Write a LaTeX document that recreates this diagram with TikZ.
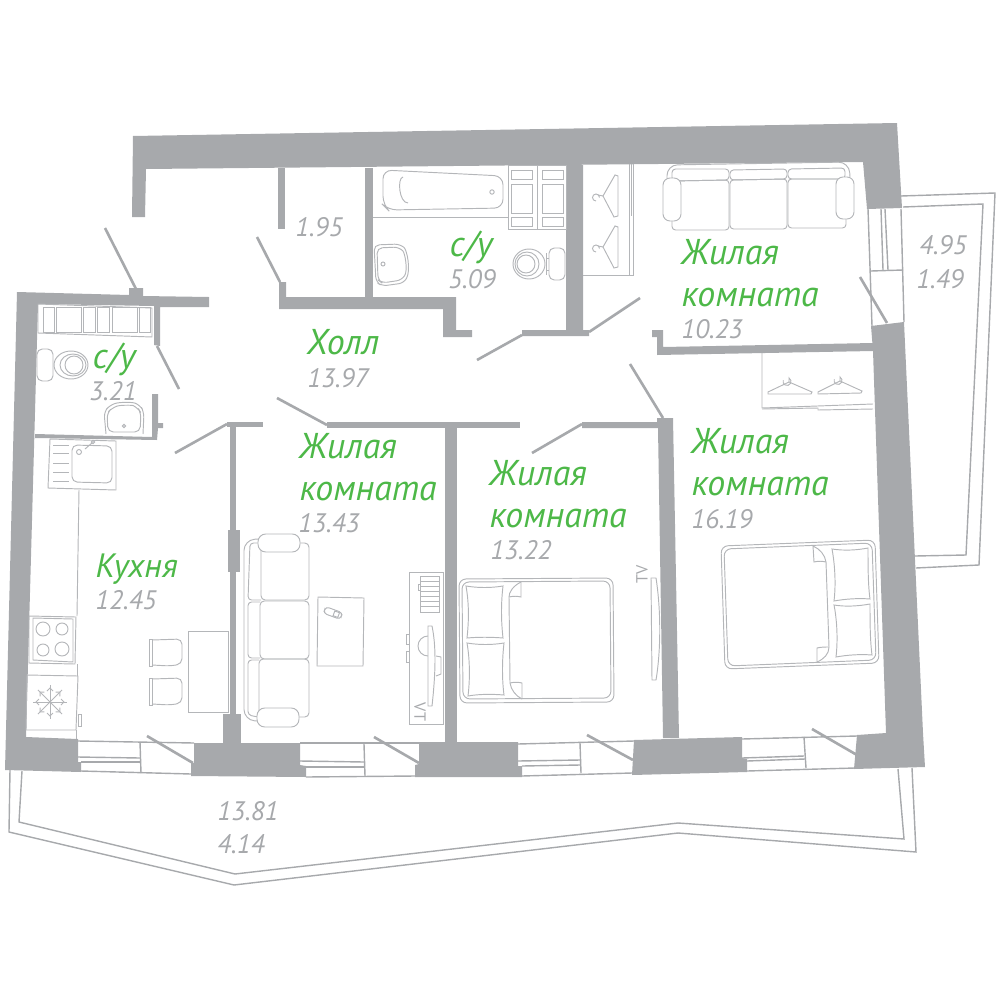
\documentclass[tikz,border=0pt]{standalone}
\usepackage{fontspec}
\setmainfont{PT Sans}
\definecolor{wallgray}{HTML}{A7A9AC}
\definecolor{linegray}{HTML}{B4B6B9}
\definecolor{roomgreen}{HTML}{4DB848}
\tikzset{
	wallfill/.style = {fill = wallgray, draw = none},
	doorline/.style = {draw = wallgray, line width = 0.75pt},
	winline/.style = {draw = wallgray, line width = 0.4pt},
	furnline/.style = {draw = linegray, line width = 0.27pt},
	roomlabel/.style = {text = roomgreen, font = \fontsize{10.2}{11.7}\selectfont\itshape, anchor = base west, align = left, inner sep = 0pt},
	arealabel/.style = {text = wallgray, font = \fontsize{7.6}{10}\selectfont\itshape, anchor = center, inner sep = 0pt},
	tvlabel/.style = {text = wallgray, font = \fontsize{4.6}{5}\selectfont, inner sep = 0pt}
}
\begin{document}
\begin{tikzpicture}[x = 0.01cm, y = -0.01cm]
	\useasboundingbox (0, 0) rectangle (1000, 1000);

	% walls
	\fill[wallfill] (133, 136) -- (897, 123) -- (902, 208) -- (867, 209) -- (863, 162) -- (146, 169) -- (145, 217) -- (132, 217) -- cycle;
	\fill[wallfill] (278, 168) rectangle (285, 229);
	\fill[wallfill] (365, 168) rectangle (373, 298);
	\fill[wallfill] (279, 282) -- (286, 282) -- (286, 297) -- (456, 297) -- (456, 330) -- (472, 330) -- (472, 337) -- (443, 337) -- (443, 309) -- (279, 309) -- cycle;
	\fill[wallfill] (566, 165) -- (583, 165) -- (583, 330) -- (589, 330) -- (589, 336) -- (522, 336) -- (522, 330) -- (566, 330) -- cycle;
	\fill[wallfill] (652, 330) -- (663, 330) -- (663, 347) -- (873, 343) -- (873, 351) -- (657, 355) -- (657, 337) -- (652, 337) -- cycle;
	\fill[wallfill] (871, 326) -- (904, 322) -- (923, 733) -- (925, 767) -- (854, 769) -- (857, 735) -- (886, 733) -- (873, 351) -- cycle;
	\fill[wallfill] (327, 422) rectangle (520, 428);
	\fill[wallfill] (582, 422) -- (657, 422) -- (657, 418) -- (673, 418) -- (679, 738) -- (663, 738) -- (658, 428) -- (582, 428) -- cycle;
	\fill[wallfill] (445, 428) rectangle (457, 742);
	\fill[wallfill] (634, 740) -- (742, 737) -- (742, 758) -- (747, 759) -- (747, 772) -- (632, 775) -- cycle;
	\fill[wallfill] (419, 742) -- (518, 742) -- (518, 766) -- (522, 766) -- (522, 777) -- (415, 777) -- (415, 765) -- (419, 764) -- cycle;
	\fill[wallfill] (194, 743) -- (300, 743) -- (300, 765) -- (306, 766) -- (306, 777) -- (191, 776) -- (191, 763) -- (194, 763) -- cycle;
	\fill[wallfill] (17, 292) -- (129, 295) -- (129, 288) -- (143, 288) -- (143, 296) -- (209, 297) -- (209, 307) -- (160, 307) -- (160, 346) -- (154, 345) -- (154, 306) -- (38, 304) -- (26, 737) -- (78, 739) -- (78, 762) -- (81, 762) -- (81, 772) -- (5, 770) -- cycle;
	\fill[wallfill] (35, 434) -- (152, 437) -- (152, 394) -- (158, 394) -- (158, 423) -- (163, 423) -- (163, 428) -- (158, 428) -- (157, 440) -- (35, 438) -- cycle;
	\fill[wallfill] (227, 422) rectangle (263, 427);
	\fill[wallfill] (230, 427) rectangle (236, 530);
	\fill[wallfill] (228, 530) rectangle (240, 572);
	\fill[wallfill] (230, 572) rectangle (236, 714);
	\fill[wallfill] (223, 714) rectangle (241, 743);

	% doors
	\draw[doorline] (105, 228) -- (136, 289);
	\draw[doorline] (257, 237) -- (280, 282);
	\draw[doorline] (477, 360) -- (522, 335);
	\draw[doorline] (589, 332) -- (640, 298);
	\draw[doorline] (860, 277) -- (887, 323);
	\draw[doorline] (630, 364) -- (663, 418);
	\draw[doorline] (277, 398) -- (327, 425);
	\draw[doorline] (532, 453) -- (582, 424);
	\draw[doorline] (157, 346) -- (179, 389);
	\draw[doorline] (175, 453) -- (227, 424);
	\draw[doorline] (147, 736) -- (193, 763);
	\draw[doorline] (374, 737) -- (419, 763);
	\draw[doorline] (587, 735) -- (633, 760);
	\draw[doorline] (812, 729) -- (857, 755);

	% windows
	\draw[winline] (78, 741) -- (194, 743);
	\draw[winline] (78, 757) -- (140, 758);
	\draw[winline] (81, 762) -- (140, 762);
	\draw[winline] (81, 771) -- (191, 774);
	\draw[winline] (140, 742) -- (141, 773);
	\draw[winline] (300, 743) -- (419, 743);
	\draw[winline] (300, 761) -- (364, 762);
	\draw[winline] (306, 767) -- (364, 767);
	\draw[winline] (306, 777) -- (415, 776);
	\draw[winline] (364, 744) -- (365, 776);
	\draw[winline] (518, 744) -- (634, 741);
	\draw[winline] (518, 761) -- (580, 760);
	\draw[winline] (522, 766) -- (580, 765);
	\draw[winline] (522, 776) -- (632, 773);
	\draw[winline] (580, 743) -- (581, 773);
	\draw[winline] (742, 739) -- (857, 736);
	\draw[winline] (742, 758) -- (804, 756);
	\draw[winline] (747, 761) -- (805, 759);
	\draw[winline] (747, 771) -- (855, 768);
	\draw[winline] (804, 737) -- (806, 768);
	\draw[winline] (868, 209) -- (872, 326);
	\draw[winline] (901, 209) -- (904, 322);
	\draw[winline] (881, 209) -- (883, 270);
	\draw[winline] (885, 209) -- (888, 270);
	\draw[winline] (871, 271) -- (903, 270);

	% balconies
	\draw[winline] (901, 196) -- (995, 193) -- (979, 565) -- (916, 568);
	\draw[winline] (903, 207) -- (983, 204) -- (966, 555) -- (915, 556);
	\draw[winline] (10, 770) -- (9, 832) -- (234, 885) -- (678, 833) -- (916, 852) -- (912, 768);
	\draw[winline] (22, 771) -- (19, 822) -- (235, 874) -- (678, 823) -- (904, 839) -- (898, 769);

	% bathroom
	\draw[furnline, rounded corners = 2.5pt] (383, 170) -- (503, 176) -- (503, 208) -- (388, 210) -- (383, 205) -- cycle;
	\draw[furnline] (403, 177) .. controls (397, 178) and (399, 203) .. (408, 203);
	\draw[furnline] (492, 192) circle[radius = 2.2];
	\draw[furnline] (373, 217) -- (508, 217);
	\draw[furnline] (508, 165) rectangle (566, 229);
	\draw[furnline] (537, 165) -- (537, 229);
	\foreach \boxx in {511, 542} {
		\draw[furnline] (\boxx, 170) rectangle ++(21, 9);
		\draw[furnline] (\boxx, 184) rectangle ++(21, 29);
		\draw[furnline] (\boxx, 217) rectangle ++(21, 9);
	}
	\draw[furnline, rounded corners = 1.5pt] (374, 245) -- (400, 244) .. controls (407, 250) and (411, 270) .. (404, 283) -- (382, 286) -- (376, 282) -- cycle;
	\draw[furnline, rounded corners = 1.5pt] (377, 248) -- (399, 247) .. controls (405, 253) and (408, 270) .. (402, 280) -- (382, 283) -- (378, 280) -- cycle;
	\draw[furnline] (383, 264) circle[radius = 2];
	\draw[furnline, rounded corners = 1.5pt] (549, 248) rectangle (565, 280);
	\draw[furnline] (529, 264) ellipse[x radius = 16, y radius = 15];
	\draw[furnline] (527, 264) ellipse[x radius = 12, y radius = 12];
	\draw[furnline] (526, 264) ellipse[x radius = 9, y radius = 9];
	\draw[furnline] (546, 253) -- (546, 275);
	\draw[furnline] (549, 258) -- (546, 258);
	\draw[furnline] (549, 270) -- (546, 270);

	% closet and sofa, room at the top
	\draw[furnline] (583, 275) -- (633, 275) -- (633, 164);
	\draw[furnline] (629, 164) -- (629, 275);
	\draw[furnline] (631, 164) -- (631, 216);
	\foreach \hangy in {0, 51} {
		\draw[furnline] (603, 196 + \hangy) -- (615, 175 + \hangy) -- (618, 176 + \hangy) -- (618, 216 + \hangy) -- (614, 217 + \hangy) -- cycle;
		\draw[furnline] (603, 196 + \hangy) -- (598, 195 + \hangy);
		\draw[furnline] (596, 201 + \hangy) arc[start angle = 90, end angle = 360, radius = 3.5];
	}
	\draw[furnline, rounded corners = 3pt] (667, 178) -- (667, 165) -- (849, 162) -- (850, 177);
	\draw[furnline, rounded corners = 1pt] (672, 181) -- (672, 169) -- (729, 169) -- (729, 180) -- cycle;
	\draw[furnline, rounded corners = 1pt] (730, 180) -- (730, 170) -- (787, 169) -- (787, 179) -- cycle;
	\draw[furnline, rounded corners = 1pt] (788, 179) -- (788, 169) -- (845, 168) -- (845, 179) -- cycle;
	\draw[furnline, rounded corners = 1pt] (672, 181) -- (729, 180) -- (729, 230) -- (672, 230) -- cycle;
	\draw[furnline, rounded corners = 1pt] (730, 180) -- (787, 179) -- (787, 229) -- (730, 229) -- cycle;
	\draw[furnline, rounded corners = 1pt] (788, 179) -- (846, 179) -- (846, 228) -- (788, 228) -- cycle;
	\filldraw[furnline, fill = white, rounded corners = 2pt] (663, 178) rectangle (681, 221);
	\filldraw[furnline, fill = white, rounded corners = 2pt] (836, 177) rectangle (854, 219);

	% bathroom by the kitchen
	\draw[furnline] (38, 304) -- (152, 308) -- (152, 337) -- (38, 333) -- cycle;
	\foreach \boxa/\boxb in {43/54, 56/81, 83/95, 97/109, 112/137, 139/150} {
		\draw[furnline] (\boxa, 307) rectangle (\boxb, 332);
	}
	\draw[furnline, rounded corners = 1.5pt] (37, 349) rectangle (53, 381);
	\draw[furnline] (71, 365) ellipse[x radius = 17, y radius = 14];
	\draw[furnline] (73, 365) ellipse[x radius = 13, y radius = 11];
	\draw[furnline] (74, 365) ellipse[x radius = 9, y radius = 9];
	\draw[furnline, rounded corners = 1.5pt] (106, 434) -- (104, 412) -- (110, 405) .. controls (120, 402) and (132, 402) .. (140, 405) -- (144, 412) -- (143, 434);
	\draw[furnline, rounded corners = 1.5pt] (108, 432) -- (107, 413) -- (112, 408) .. controls (120, 405) and (132, 405) .. (138, 408) -- (141, 413) -- (140, 432) -- cycle;
	\draw[furnline] (124, 426) circle[radius = 1.6];

	% kitchen
	\draw[furnline] (50, 439) -- (116, 441) -- (116, 490) -- (48, 488) -- cycle;
	\draw[furnline, rounded corners = 1.5pt] (72, 445) -- (112, 446) -- (112, 483) -- (72, 482) -- cycle;
	\foreach \drainy in {445, 453, 463, 472, 481} {
		\draw[furnline] (53, \drainy) -- (69, \drainy);
	}
	\draw[furnline] (79, 452) circle[radius = 2.5];
	\draw[furnline] (93, 442) circle[radius = 1.6];
	\draw[furnline] (85, 449) -- (92, 443);
	\draw[furnline] (79, 490) -- (77, 616);
	\draw[furnline] (77, 664) -- (77, 676);
	\draw[furnline] (76, 730) -- (76, 739);
	\draw[furnline] (29, 616) -- (76, 617) -- (75, 664) -- (29, 663) -- cycle;
	\draw[furnline] (33, 618) -- (73, 619) -- (73, 662) -- (33, 660) -- cycle;
	\draw[furnline] (43, 629) circle[radius = 7];
	\draw[furnline] (62, 629) circle[radius = 6];
	\draw[furnline] (43, 650) circle[radius = 6];
	\draw[furnline] (62, 649) circle[radius = 7];
	\draw[furnline] (27, 675) -- (78, 676) -- (76, 730) -- (26, 730) -- cycle;
	\draw[furnline] (78, 714) rectangle (81, 726);
	\foreach \flakea in {0, 45, ..., 315} {
		\begin{scope}[shift = {(50, 702)}, rotate = \flakea]
			\draw[furnline] (0, 0) -- (17, 0);
			\draw[furnline] (11, -3) -- (14, 0) -- (11, 3);
		\end{scope}
	}
	\foreach \chairy in {639, 678} {
		\draw[furnline] (149, \chairy) rectangle (152, \chairy + 27);
		\draw[furnline, rounded corners = 1.5pt] (152, \chairy + 1) -- (182, \chairy) -- (182, \chairy + 25) -- (170, \chairy + 27) -- (152, \chairy + 26);
	}
	\draw[furnline] (188, 631) rectangle (228, 712);

	% living room sofa and tv
	\draw[furnline, rounded corners = 3pt] (258, 539) -- (244, 540) -- (244, 720) -- (257, 721);
	\draw[furnline, rounded corners = 1.2pt] (261, 543) rectangle (309, 600);
	\draw[furnline, rounded corners = 1.2pt] (260, 601) rectangle (309, 659);
	\draw[furnline, rounded corners = 1.2pt] (259, 659) rectangle (309, 717);
	\draw[furnline, rounded corners = 1pt] (261, 543) -- (250, 543) -- (248, 600) -- (261, 600);
	\draw[furnline, rounded corners = 1pt] (260, 602) -- (248, 602) -- (248, 658) -- (260, 658);
	\draw[furnline, rounded corners = 1pt] (259, 660) -- (248, 660) -- (248, 715) -- (258, 717);
	\filldraw[furnline, fill = white, rounded corners = 2.2pt] (258, 534) rectangle (300, 552);
	\filldraw[furnline, fill = white, rounded corners = 2.2pt] (257, 708) rectangle (299, 727);
	\draw[furnline] (318, 597) -- (364, 598) -- (363, 666) -- (317, 666) -- cycle;
	\draw[furnline, rounded corners = 1pt, rotate around = {-20 : (333, 613)}] (324, 609.5) rectangle (342, 616.5);
	\draw[furnline, rotate around = {-20 : (333, 613)}] (334, 610.5) rectangle (339, 615.5);
	\draw[furnline] (409, 572) rectangle (443, 724);
	\draw[furnline] (420, 576) rectangle (439, 612);
	\foreach \bary in {581, 586, 591, 596, 601, 606} {
		\draw[furnline] (420, \bary) -- (439, \bary);
	}
	\draw[furnline] (420, 584) rectangle (418, 590);
	\draw[furnline] (406, 634) rectangle (409, 644);
	\draw[furnline] (406, 651) rectangle (409, 662);
	\draw[furnline] (428, 626) -- (432, 626) .. controls (436, 645) and (436, 670) .. (432, 706) -- (428, 706) -- cycle;
	\draw[furnline] (428, 656) arc[start angle = 90, end angle = 270, radius = 10];
	\draw[furnline] (436, 656) -- (441, 657) -- (441, 674) -- (436, 676);
	\node[tvlabel, rotate = -90] (tvleft) at (420, 712) {VT};

	% bed, middle room
	\draw[furnline, rounded corners = 2pt] (459, 579) -- (613, 578) -- (614, 702) -- (460, 703) -- cycle;
	\draw[furnline, rounded corners = 2pt] (462, 582) -- (610, 581) -- (611, 698) -- (463, 699) -- cycle;
	\draw[furnline] (466, 586) .. controls (478, 588) and (491, 588) .. (503, 586) .. controls (501, 603) and (501, 620) .. (503, 638) .. controls (491, 637) and (478, 637) .. (467, 638) .. controls (469, 620) and (469, 603) .. (466, 586) -- cycle;
	\draw[furnline] (467, 643) .. controls (479, 645) and (492, 645) .. (504, 643) .. controls (502, 660) and (502, 680) .. (504, 695) .. controls (492, 694) and (479, 694) .. (468, 696) .. controls (470, 680) and (470, 660) .. (467, 643) -- cycle;
	\draw[furnline] (521, 582) .. controls (513, 586) and (509, 592) .. (509, 597) -- (510, 683) .. controls (511, 690) and (516, 696) .. (522, 699);
	\draw[furnline] (521, 582) -- (521, 597) .. controls (517, 596) and (513, 596) .. (509, 597);
	\draw[furnline] (522, 699) -- (522, 683) .. controls (518, 682) and (514, 682) .. (510, 683);
	\draw[furnline] (651, 578) -- (656, 578) .. controls (661, 610) and (661, 650) .. (656, 680) -- (652, 680) -- cycle;
	\node[tvlabel, rotate = 90] (tvright) at (642, 574) {TV};

	% bed and closet, big room
	\draw[furnline] (762, 353) -- (762, 408) -- (873, 404);
	\draw[furnline] (762, 409) -- (818, 408) -- (818, 410) -- (873, 409);
	\draw[furnline] (789, 382) -- (812, 392) -- (811, 394) -- (768, 394) -- (768, 392) -- cycle;
	\draw[furnline] (840, 381) -- (862, 391) -- (861, 393) -- (818, 394) -- (818, 392) -- cycle;
	\draw[furnline] (789, 382) -- (789, 378) arc[start angle = -60, end angle = 200, radius = 4];
	\draw[furnline] (840, 381) -- (840, 377) arc[start angle = -60, end angle = 200, radius = 4];
	\draw[furnline, rounded corners = 2pt] (721, 546) -- (875, 540) -- (879, 663) -- (725, 669) -- cycle;
	\draw[furnline, rounded corners = 2pt] (724, 549) -- (872, 543) -- (876, 660) -- (728, 666) -- cycle;
	\draw[furnline] (832, 549) .. controls (845, 551) and (858, 550) .. (868, 548) .. controls (868, 565) and (868, 585) .. (870, 599) .. controls (858, 598) and (845, 599) .. (834, 601) .. controls (836, 585) and (835, 565) .. (832, 549) -- cycle;
	\draw[furnline] (834, 605) .. controls (846, 607) and (859, 606) .. (870, 604) .. controls (870, 620) and (870, 640) .. (872, 655) .. controls (860, 654) and (847, 655) .. (836, 657) .. controls (838, 640) and (837, 620) .. (834, 605) -- cycle;
	\draw[furnline] (813, 546) .. controls (820, 549) and (825, 555) .. (826, 562) -- (829, 647) .. controls (829, 654) and (824, 659) .. (817, 662);
	\draw[furnline] (813, 546) -- (814, 562) .. controls (818, 561) and (822, 561) .. (826, 562);
	\draw[furnline] (817, 662) -- (817, 648) .. controls (821, 647) and (825, 647) .. (829, 647);

	% labels
	\node[roomlabel] (hall) at (306, 354) {Холл};
	\node[arealabel] (hallarea) at (338, 378) {13.97};
	\node[arealabel] (closetarea) at (319, 227) {1.95};
	\node[roomlabel] (bathbig) at (449, 256) {с/у};
	\node[arealabel] (bathbigarea) at (472, 279) {5.09};
	\node[roomlabel] (bedtop) at (681, 306) {Жилая\\комната};
	\node[arealabel] (bedtoparea) at (712, 329) {10.23};
	\node[roomlabel] (bathsmall) at (92, 368) {с/у};
	\node[arealabel] (bathsmallarea) at (113, 391) {3.21};
	\node[roomlabel] (living) at (299, 500) {Жилая\\комната};
	\node[arealabel] (livingarea) at (329, 523) {13.43};
	\node[roomlabel] (bedmid) at (489, 527) {Жилая\\комната};
	\node[arealabel] (bedmidarea) at (521, 550) {13.22};
	\node[roomlabel] (bedbig) at (691, 495) {Жилая\\комната};
	\node[arealabel] (bedbigarea) at (722, 519) {16.19};
	\node[roomlabel, font = \fontsize{9.6}{11.7}\selectfont\itshape] (kitchen) at (95, 577) {Кухня};
	\node[arealabel] (kitchenarea) at (126, 600) {12.45};
	\node[arealabel] (southarea) at (248, 811) {13.81};
	\node[arealabel] (southcoef) at (241, 844) {4.14};
	\node[arealabel] (eastarea) at (943, 245) {4.95};
	\node[arealabel] (eastcoef) at (940, 279) {1.49};
\end{tikzpicture}
\end{document}
